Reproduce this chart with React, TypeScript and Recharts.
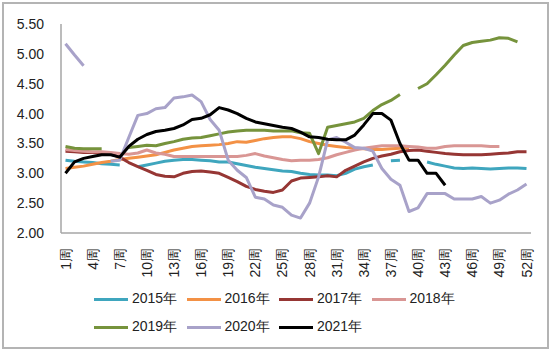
import { LineChart, Line, XAxis, YAxis } from 'recharts';

// weekly price by year, 52 weeks (null = no data)
const WEEKS = Array.from({ length: 52 }, (_, i) => `${i + 1}周`);

const Y2015 = [
  3.22, 3.2, 3.19, 3.18, 3.16, 3.15, 3.14, null, 3.11, 3.14, 3.17, 3.2, 3.22,
  3.23, 3.23, 3.22, 3.21, 3.19, 3.19, 3.16, 3.13, 3.1, 3.08, 3.06, 3.04, 3.03,
  3.0, 2.98, 2.97, 2.97, 2.96, 3.0, 3.07, 3.11, 3.14, null, 3.21, 3.22, null,
  null, 3.19, 3.15, 3.12, 3.09, 3.08, 3.09, 3.08, 3.07, 3.08, 3.09, 3.09, 3.08,
];
const Y2016 = [
  3.08, 3.1, 3.12, 3.15, 3.18, 3.2, 3.23, 3.25, 3.27, 3.29, 3.31, 3.35, 3.39,
  3.42, 3.45, 3.46, 3.47, 3.48, 3.5, 3.53, 3.52, 3.55, 3.58, 3.6, 3.61, 3.61,
  3.58, 3.53, 3.5, 3.47, 3.45, 3.43, 3.42, 3.41, 3.4, 3.4, 3.41, 3.42, 3.43,
  null, null, null, null, null, null, null, null, null, null, null, null, null,
];
const Y2017 = [
  3.37, 3.36, 3.35, 3.35, 3.34, 3.32, 3.27, 3.18, 3.11, 3.05, 2.98, 2.95, 2.94,
  3.0, 3.03, 3.04, 3.02, 3.0, 2.93, 2.86, 2.78, 2.73, 2.7, 2.68, 2.72, 2.87,
  2.92, 2.93, 2.94, 2.96, 2.94, 3.05, 3.12, 3.19, 3.25, 3.29, 3.32, 3.36, 3.38,
  3.39, 3.37, 3.35, 3.33, 3.32, 3.31, 3.31, 3.31, 3.32, 3.33, 3.34, 3.36, 3.36,
];
const Y2018 = [
  3.4, 3.38, 3.37, 3.36, 3.36, 3.35, 3.33, 3.32, 3.34, 3.39, 3.34, 3.32, 3.28,
  3.28, 3.28, 3.28, 3.28, 3.28, 3.28, 3.28, 3.3, 3.33, 3.29, 3.26, 3.23, 3.21,
  3.22, 3.22, 3.23, 3.26, 3.31, 3.35, 3.39, 3.42, 3.44, 3.46, 3.46, 3.46, 3.45,
  3.44, 3.42, 3.42, 3.45, 3.46, 3.46, 3.46, 3.46, 3.45, 3.45, null, null, null,
];
const Y2019 = [
  3.45, 3.42, 3.41, 3.41, 3.41, null, null, 3.43, 3.45, 3.47, 3.46, 3.5, 3.53,
  3.57, 3.59, 3.6, 3.63, 3.66, 3.69, 3.71, 3.72, 3.72, 3.72, 3.71, 3.71, 3.71,
  3.68, 3.67, 3.33, 3.77, 3.8, 3.83, 3.86, 3.92, 4.05, 4.15, 4.22, 4.32, null,
  4.42, 4.5, 4.65, 4.81, 4.98, 5.14, 5.19, 5.21, 5.23, 5.27, 5.26, 5.2, null,
];
const Y2020 = [
  5.17, 4.98, 4.8, null, null, 3.2, 3.22, 3.6, 3.97, 4.0, 4.08, 4.1, 4.26,
  4.28, 4.31, 4.2, 3.9, 3.72, 3.22, 3.05, 2.93, 2.6, 2.57, 2.47, 2.43, 2.3,
  2.25, 2.5, 2.94, 3.56, 3.6, 3.52, 3.43, 3.42, 3.37, 3.08, 2.9, 2.8, 2.36,
  2.42, 2.66, 2.66, 2.66, 2.57, 2.57, 2.57, 2.61, 2.5, 2.55, 2.65, 2.72, 2.82,
];
const Y2021 = [
  3.0, 3.19, 3.25, 3.28, 3.31, 3.31, 3.27, 3.45, 3.57, 3.65, 3.7, 3.72, 3.75,
  3.81, 3.9, 3.92, 3.98, 4.1, 4.06, 4.0, 3.92, 3.86, 3.83, 3.8, 3.77, 3.75,
  3.69, 3.61, 3.6, 3.57, 3.56, 3.56, 3.64, 3.81, 4.0, 4.0, 3.89, 3.5, 3.22,
  3.22, 3.0, 3.0, 2.8, null, null, null, null, null, null, null, null, null,
];

const Y_TICKS = [2, 2.5, 3, 3.5, 4, 4.5, 5, 5.5];

const SERIES = [
  { key: 'y2015', name: '2015年', color: '#3fa6be', values: Y2015 },
  { key: 'y2016', name: '2016年', color: '#f39145', values: Y2016 },
  { key: 'y2017', name: '2017年', color: '#963634', values: Y2017 },
  { key: 'y2018', name: '2018年', color: '#d99694', values: Y2018 },
  { key: 'y2019', name: '2019年', color: '#76933c', values: Y2019 },
  { key: 'y2020', name: '2020年', color: '#a8a2c9', values: Y2020 },
  { key: 'y2021', name: '2021年', color: '#000000', values: Y2021 },
];

const data = WEEKS.map((week, i) => {
  const row: Record<string, string | number | null> = { week };
  SERIES.forEach((s) => {
    row[s.key] = s.values[i];
  });
  return row;
});

const FONT = '"Liberation Sans", Arial, sans-serif';
const TEXT = '#222';
const AXIS = '#a6a6a6';

function WeekTick(props: any) {
  const { x, y, payload } = props;
  return (
    <text
      x={x}
      y={y + 7}
      transform={`rotate(-90 ${x} ${y + 7})`}
      textAnchor="end"
      dy="0.36em"
      fill={TEXT}
      fontSize={14}
      fontFamily={FONT}
    >
      {payload.value}
    </text>
  );
}

const LEGEND_ROWS = [SERIES.slice(0, 4), SERIES.slice(4)];

export default function App() {
  return (
    <div style={{ position: 'absolute', left: 0, top: 0, width: 550, height: 351, background: '#fff' }}>
      <div
        style={{
          position: 'absolute',
          left: 2,
          top: 2,
          width: 543,
          height: 343,
          border: '2px solid #b4b4b4',
        }}
      />
      <LineChart
        width={550}
        height={351}
        data={data}
        margin={{ top: 24, right: 19, left: 0, bottom: 78 }}
        style={{ position: 'absolute', left: 0, top: 0 }}
      >
        <XAxis
          dataKey="week"
          interval={2}
          tick={<WeekTick />}
          tickLine={false}
          axisLine={{ stroke: AXIS, strokeWidth: 1.5 }}
          padding={{ left: 4.5, right: 4.5 }}
          height={40}
        />
        <YAxis
          domain={[2, 5.5]}
          ticks={Y_TICKS}
          width={61}
          tickLine={false}
          tickSize={0}
          tickMargin={17}
          axisLine={{ stroke: AXIS, strokeWidth: 1.5 }}
          tickFormatter={(v: number) => v.toFixed(2)}
          tick={{ fill: TEXT, fontSize: 14, fontFamily: FONT }}
        />
        {SERIES.map((s) => (
          <Line
            key={s.key}
            dataKey={s.key}
            name={s.name}
            stroke={s.color}
            strokeWidth={3}
            dot={false}
            activeDot={false}
            strokeLinejoin="round"
            isAnimationActive={false}
          />
        ))}
      </LineChart>
      {LEGEND_ROWS.map((row, r) => (
        <div
          key={r}
          style={{
            position: 'absolute',
            left: 94,
            top: 290 + r * 28,
            display: 'flex',
            alignItems: 'center',
            fontFamily: FONT,
            fontSize: 14,
            color: TEXT,
            height: 18,
          }}
        >
          {row.map((s) => (
            <div key={s.key} style={{ display: 'flex', alignItems: 'center', width: 92.5 }}>
              <span style={{ display: 'inline-block', width: 34, height: 3, background: s.color, marginRight: 4 }} />
              <span>{s.name}</span>
            </div>
          ))}
        </div>
      ))}
    </div>
  );
}
